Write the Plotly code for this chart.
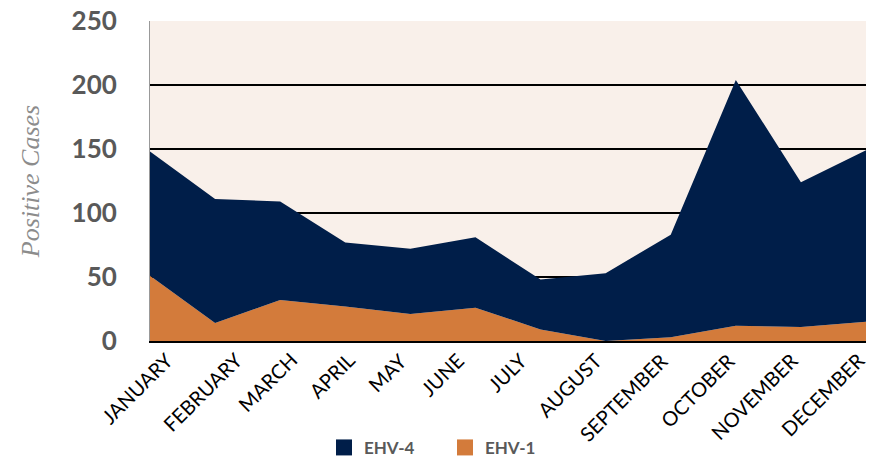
import plotly.graph_objects as go

meses = ['JANUARY', 'FEBRUARY', 'MARCH', 'APRIL', 'MAY', 'JUNE', 'JULY',
         'AUGUST', 'SEPTEMBER', 'OCTOBER', 'NOVEMBER', 'DECEMBER']
ehv1 = [51, 14, 32, 27, 21, 26, 9, 0, 3, 12, 11, 15]
ehv4 = [97, 97, 77, 50, 51, 55, 39, 53, 80, 192, 113, 134]

cores = {'EHV-4': '#001e49', 'EHV-1': '#d37b3b'}
# ajuste fino horizontal (px) de cada rótulo, como o excel desenha
desloc_rotulos = [30, 34, 24, 17, 4, -4, -6, 3, 4, 6, 4, 6]

fig = go.Figure()
fig.add_trace(go.Scatter(
    x=meses, y=ehv1, name='EHV-1', stackgroup='um', mode='none',
    fillcolor=cores['EHV-1'], showlegend=False,
))
fig.add_trace(go.Scatter(
    x=meses, y=ehv4, name='EHV-4', stackgroup='um', mode='none',
    fillcolor=cores['EHV-4'], showlegend=False,
))
# legenda com quadrados
for nome in ['EHV-4', 'EHV-1']:
    fig.add_trace(go.Scatter(
        x=[None], y=[None], mode='markers', name=nome,
        marker=dict(symbol='square', size=16, color=cores[nome]),
    ))

# rótulos dos meses inclinados
for m, dx in zip(meses, desloc_rotulos):
    fig.add_annotation(
        x=m, y=0, xref='x', yref='y', text=m, showarrow=False,
        textangle=-45, xanchor='right', yanchor='top',
        xshift=dx, yshift=-4,
        font=dict(size=20, color='black', family='Lato'),
    )

fig.update_layout(
    width=869, height=457,
    margin=dict(l=150, r=3, t=21, b=116, autoexpand=False),
    paper_bgcolor='white',
    plot_bgcolor='#f9f0ea',
    font=dict(family='Lato', color='#595959'),
    legend=dict(
        orientation='h', x=0.243, xanchor='left', y=-0.334, yanchor='middle',
        traceorder='normal',
        font=dict(size=17, color='#595959', family='Lato', weight='bold'),
        entrywidth=76, itemwidth=30,
    ),
)
fig.update_yaxes(
    range=[0, 250], dtick=50, automargin=False,
    showgrid=True, gridcolor='black', gridwidth=2,
    zeroline=False, showline=True, linecolor='#999999', linewidth=1,
    tickfont=dict(size=26, color='#595959', family='Lato', weight='bold'),
    ticklabelstandoff=27,
    title=dict(text='Positive Cases',
               font=dict(size=26, color='#8c8c8c', family='Liberation Serif', style='italic'),
               standoff=24),
)
fig.update_xaxes(
    range=[0, 11], automargin=False, showgrid=False,
    showline=True, linecolor='black', linewidth=2,
    showticklabels=False, ticks='',
)

fig.write_html('out.html', config={'displayModeBar': False},
               post_script="document.body.style.margin='0';")
